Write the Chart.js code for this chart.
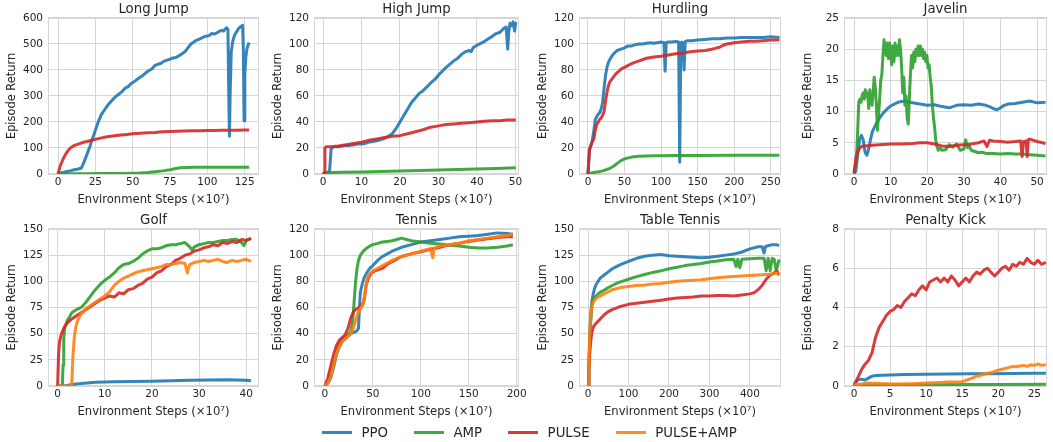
<!DOCTYPE html>
<html>
<head>
<meta charset="utf-8">
<script src="https://cdn.jsdelivr.net/npm/chart.js@4.4.1/dist/chart.umd.min.js"></script>
<style>
	body { margin: 0; background: #fff; width: 1053px; height: 442px; position: relative; overflow: hidden; font-family: "DejaVu Sans", sans-serif; }
	canvas.panel { position: absolute; }
	#legend { position: absolute; left: 322px; top: 424px; height: 16px; display: flex; align-items: center; font-size: 13.3px; color: #262626; white-space: nowrap; }
	#legend .item { display: flex; align-items: center; margin-right: 26px; }
	#legend .swatch { width: 30px; height: 3px; margin-right: 9.5px; }
</style>
</head>
<body>
<canvas id="c0" class="panel"></canvas>
<canvas id="c1" class="panel"></canvas>
<canvas id="c2" class="panel"></canvas>
<canvas id="c3" class="panel"></canvas>
<canvas id="c4" class="panel"></canvas>
<canvas id="c5" class="panel"></canvas>
<canvas id="c6" class="panel"></canvas>
<canvas id="c7" class="panel"></canvas>
<div id="legend"></div>
<script>
// series: PPO, AMP, PULSE, PULSE+AMP
const seriesNames = ['PPO', 'AMP', 'PULSE', 'PULSE+AMP'];
const seriesColors = ['rgba(31,119,180,0.9)', 'rgba(44,160,44,0.9)', 'rgba(214,39,40,0.9)', 'rgba(255,127,14,0.9)'];

// ---- Long Jump ----
const longJumpXTicks = [0, 25, 50, 75, 100, 125];
const longJumpYTicks = [0, 100, 200, 300, 400, 500, 600];
const longJumpPpoX = [0,2,4,6,8,10,12,14,15.5,17, 18.5,20,21.5,23,24.5,26,27.5,29,31,33, 35,37,39,41,43,45,47,49,51,53, 55,57,59,61,63,65,67,69,71,73, 75,77,79,81,83,85,87,89,91,93, 95,97,99,101,103,105,107,109,111,112, 113,113.8,114.3,114.8,115.3,116,117,118,119,120, 121,122,123,123.6,124.1,124.6,125.1,125.8,126.5,127.2, 128];
const longJumpPpoY = [0,4,7,10,12,15,17,20,22,40, 62,85,108,135,160,185,208,228,245,262, 276,288,300,308,318,330,336,348,355,364, 372,380,390,398,405,418,422,426,434,438, 442,446,448,455,462,470,485,500,508,515, 520,525,530,532,540,538,545,552,550,558, 562,556,330,145,310,470,510,530,542,550, 560,565,570,572,480,205,380,450,480,495, 505];
const longJumpPulseX = [0,1,2,3,4,5,6,7,8,9, 10,12,14,16,18,20,22,24,27,30, 34,38,42,46,50,55,60,65,70,75, 80,85,90,95,100,105,110,115,120,125, 128];
const longJumpPulseY = [0,22,38,52,64,75,84,92,98,103, 107,112,116,120,123,126,129,132,136,140, 144,147,150,152,155,157,159,160,162,163, 164,165,166,166,167,167,168,168,168,169, 169];
const longJumpAmpX = [0,10,20,30,40,50,55,60,65,70, 74,78,82,86,90,95,100,110,120,128];
const longJumpAmpY = [0,0.5,1,1.5,2,3,4,6,9,12, 15,20,24,25,25.5,26,26,26,26,26];

// ---- High Jump ----
const highJumpXTicks = [0, 10, 20, 30, 40, 50];
const highJumpYTicks = [0, 20, 40, 60, 80, 100, 120];
const highJumpPpoX = [0,1,1.7,2.1,2.5,3,4,5,6,7, 8,9,10,11,12,13,14,15,16,17, 18,19,20,21,22,23,24,25,26,27, 28,29,30,31,32,33,34,35,36,37, 38,38.5,39,40,41,42,43,44,45,46, 47,47.6,48,48.3,48.6,49,49.4,49.8,50.1];
const highJumpPpoY = [0,1,2,19,20.5,21,21,21.5,22,22, 22.5,23,23,23.5,24.5,25,25.5,26.5,27.5,29, 31,35,40,45,50,55,58.5,62,64,67, 70,72.5,76,79,82,84.5,87,89,92,94, 95,94,97,99,100.5,102,104,106,108,109, 112,113,96,110,116,114,117,110,117];
const highJumpPulseX = [0,0.3,0.5,0.8,2,4,6,8,10,12, 14,16,18,20,22,24,26,28,30,32, 34,36,38,40,42,44,46,48,50.1];
const highJumpPulseY = [0,1,20,21,21,21.5,22.5,23.5,24.5,26, 27,28,29,29.5,31,32.5,34,36,37,38, 38.5,39,39.5,40,40.5,41,41,41.5,41.5];
const highJumpAmpX = [0,5,10,15,20,25,30,35,40,45,50.1];
const highJumpAmpY = [1,1.3,1.6,2,2.3,2.7,3,3.4,3.8,4.3,4.9];

// ---- Hurdling ----
const hurdlingXTicks = [0, 50, 100, 150, 200, 250];
const hurdlingYTicks = [0, 20, 40, 60, 80, 100, 120];
const hurdlingPpoX = [0,2,4,6,8,10,12,14,16,18, 20,22,24,26,28,30,33,36,40,45, 50,55,60,65,70,75,80,85,90,95, 100,104,105.5,107,110,115,120,124,125.5,127, 128.5,130,131.5,133,137,142,150,160,170,180, 190,200,210,220,230,240,250,262];
const hurdlingPpoY = [0,18,22,26,33,42,44,46,47,50, 55,66,76,82,86,88,91,93,95,96, 97,98.5,98.5,99.5,100,100,100.5,101,100.5,101, 101.5,101,79,101,101.5,101.5,102,101.5,9,101, 101.5,100,80,102,102.5,102.5,103,103.5,104,104, 104.5,104.5,105,105,105,105,105.5,105];
const hurdlingPulseX = [0,1,2,4,6,8,10,12,14,16, 18,20,22,24,26,28,30,34,38,42, 46,50,55,60,65,70,80,90,100,110, 120,130,140,150,160,170,180,185,190,200, 210,220,230,240,250,262];
const hurdlingPulseY = [0,10,19,22,25,27,34,38,40,42, 43,45,48,56,63,68,71,74,77,79, 81,82,83.5,85,86,87,89,90,90.5,91.5, 92.5,93,94,94.5,95,96,97.5,99,100,101, 101.5,102,102,102.5,103,103];
const hurdlingAmpX = [0,5,10,15,20,25,30,35,40,45, 50,55,60,70,80,90,100,120,150,200, 262];
const hurdlingAmpY = [0,0.8,1.4,1.8,2.4,3.3,4.4,6,8.2,10.3, 11.6,12.4,13,13.6,13.9,14,14.1,14.2,14.3,14.4, 14.5];

// ---- Javelin ----
const javelinXTicks = [0, 10, 20, 30, 40, 50];
const javelinYTicks = [0, 5, 10, 15, 20, 25];
const javelinAmpX = [0,0.4,0.7,1.0,1.3,1.6,1.9,2.2,2.5,2.8, 3.1,3.4,3.7,4.0,4.3,4.6,4.9,5.2,5.5,5.8, 6.1,6.4,6.7,7.0,7.3,7.6,7.9,8.2,8.5,8.8, 9.1,9.4,9.7,10.0,10.3,10.6,10.9,11.2,11.5,11.8, 12.1,12.4,12.7,13.0,13.3,13.6,13.9,14.2,14.5,14.8, 15.1,15.4,15.7,16.0,16.3,16.6,16.9,17.2,17.5,17.8, 18.1,18.4,18.7,19.0,19.3,19.6,19.9,20.2,20.5,20.8, 21.1,21.4,21.7,22.0,22.3,22.6,23.0,23.5,24,25, 26,27,28,29,30,30.5,31,31.5,32,33, 34,35,36,38,40,42,44,46,48,50, 52.3];
const javelinAmpY = [0.2,1.5,3,7,11.5,12,11.5,12.5,13,12, 13.5,12.5,13,10.5,13.5,12,11,13,15.5,14, 11,7,9.5,12,15,16,19,21.5,20,19, 21,18.5,21,20,17.5,20.5,18,21,19,20.5, 19,21.5,20,17,13,15.5,11,12.5,9,8, 12,16,19,17,19.5,18,20,19,20.5,19, 20.5,19,20,18.5,19.5,18,19,17,17.5,15.5, 14,11,9,7.5,5.5,4.5,3.8,4.2,3.8,3.9, 4.7,4.3,4.8,3.8,4,5.5,4.2,4.5,3.8,3.6, 3.4,3.5,3.3,3.3,3.2,3.3,3.2,3.2,3.1,3.0, 2.9];
const javelinPpoX = [0,0.5,1,1.5,2,2.5,3,3.5,4,4.5, 5,6,7,8,9,10,11,12,13,14, 15,16,18,20,22,24,26,28,30,32, 34,36,37,38,39,40,41,42,44,46, 48,50,52.3];
const javelinPpoY = [0,0.5,3,5.5,6.2,5.5,3.5,3,4,5.5, 6.8,8,9,9.8,10.4,10.9,11.2,11.5,11.6,11.7, 11.5,11.4,11.2,11,11.1,10.8,10.6,11,11.1,11, 11.2,11,10.8,10.5,10.3,10.6,11,11.2,11.3,11.5, 11.7,11.4,11.5];
const javelinPulseX = [0,0.3,0.6,1,1.5,2,3,5,7,10, 13,16,18,20,22,24,26,28,30,32, 34,35.5,36.3,37,38,40,42,44,45.5,45.9, 46.3,47,47.3,47.6,48,49,50,52.3];
const javelinPulseY = [0.2,1.5,2.8,3.6,4.1,4.4,4.5,4.6,4.7,4.8, 4.8,4.9,5.0,5.0,4.8,4.5,4.4,4.6,4.7,4.8, 5.0,5.3,4.4,5.4,5.3,5.2,5.1,5.2,5.3,2.8, 5.2,5.3,2.8,5.5,5.6,5.4,5.2,4.9];

// ---- Golf ----
const golfXTicks = [0, 10, 20, 30, 40];
const golfYTicks = [0, 25, 50, 75, 100, 125, 150];
const golfPulseX = [0,0.2,0.4,0.7,1,1.5,2,3,4,5, 6,7,8,9,10,11,12,13,14,15, 16,17,18,19,20,21,22,23,24,25, 26,27,28,29,30,31,32,33,34,35, 36,37,38,39,40,41];
const golfPulseY = [0,30,42,48,52,57,60,64,67,70, 73,76,79,82,84,86,85,89,88,92, 93,96,98,102,104,108,110,114,116,120, 122,125,126,129,130,132,133,135,134,137, 136,138,137,140,139,141];
const golfAmpX = [0,1,1.15,1.3,1.5,2,2.5,3,4,5, 6,7,8,9,10,11,12,13,14,15, 16,17,18,19,20,21,22,23,24,25, 26,27,28,28.5,29,30,31,32,33,34, 35,36,37,38,39,39.5,40,41];
const golfAmpY = [0,0,20,45,55,62,66,70,73,75, 80,86,92,97,101,104,108,113,116,117, 119,122,126,129,131,131,132,134,135,135, 136,137,133,130,133,135,136,137,137,138, 139,139,140,140,137,134,139,141];
const golfPulseAmpX = [0,3,3.2,3.5,3.8,4.2,4.6,5,5.5,6, 7,8,9,10,11,12,13,14,15,16, 17,18,19,20,21,22,23,24,25,26, 27,27.5,28,29,30,31,32,33,34,35, 36,37,38,39,40,41];
const golfPulseAmpY = [0,0,25,45,55,62,66,69,71,74, 77,80,83,86,90,96,100,103,105,107, 109,110,111,112,113,114,116,116,117,118, 117,108,116,118,119,120,119,120,121,119, 118,120,119,120,121,119];
const golfPpoX = [0,2,3,5,8,12,16,20,24,28,32,36,40,41];
const golfPpoY = [0,0.5,1.5,2.5,3.5,4,4.2,4.5,5,5.5,5.8,6,5.5,5];

// ---- Tennis ----
const tennisXTicks = [0, 50, 100, 150, 200];
const tennisYTicks = [0, 20, 40, 60, 80, 100, 120];
const tennisPulseX = [0,3,6,9,12,15,18,21,24,27, 30,33,36,39,41,43,45,48,52,56, 60,65,70,75,80,90,100,110,120,130, 140,150,160,170,180,190,196];
const tennisPulseY = [0,6,15,24,31,35,37,39,44,52, 57,59,60,62,66,77,82,86,88,89, 90,93,95,97,99,101,102.5,104.5,106,108, 109,110.5,111.5,112.5,113.5,114,114];
const tennisPpoX = [0,3,6,9,12,15,18,21,24,27, 30,33,35,36,37,39,41,44,47,50, 55,60,65,70,80,90,100,110,120,130, 140,150,160,170,180,190,196];
const tennisPpoY = [0,2,6,14,24,30,34,36,38,40, 41,42,44,60,72,78,83,87,90,92, 96,99,101,103,106,108,110,111,112,113, 114,114.5,115,116,117,116.5,116];
const tennisAmpX = [0,3,6,9,12,15,18,21,24,27, 29,30.5,32,33.5,35,37,40,43,47,50, 55,60,65,70,75,80,85,90,100,110, 120,130,140,150,160,170,180,190,196];
const tennisAmpY = [0,3,10,18,27,32,36,38,39,42, 50,65,80,90,96,100,103,105,107,108, 109,110,110.5,111,112,113,112,111,110,109, 108.5,107.5,107,106,105.5,105.5,106,107,108];
const tennisPulseAmpX = [0,3,6,9,12,15,18,21,24,27, 30,32,34,36,38,40,42,44,46,50, 55,60,65,70,80,90,100,110,112.5,114, 116,120,130,140,150,160,170,180,190,196];
const tennisPulseAmpY = [0,2,7,16,25,30,34,36,38,40, 45,50,55,58,60,63,72,82,85,88, 90,92,94,96,99,101,103,105,98,105, 106,107,108,109,111,112,113,114,115,116];

// ---- Table Tennis ----
const tableTennisXTicks = [0, 100, 200, 300, 400];
const tableTennisYTicks = [0, 25, 50, 75, 100, 125, 150];
const tableTennisPpoX = [0,2,4,6,8,10,13,16,20,25, 30,40,50,60,70,80,100,120,140,160, 180,200,220,240,260,280,300,320,340,360, 380,400,420,430,435,438,445,455,465,472];
const tableTennisPpoY = [0,20,45,62,75,82,88,93,97,100, 103,106,109,112,114,116,119,122,124,125, 125.5,124.5,124,123.5,123,122.5,123,124,125,126, 128,131,133,133,127,133,134,135,135,134];
const tableTennisAmpX = [0,2,4,6,8,10,13,16,20,25, 30,40,50,60,70,80,100,120,140,160, 180,200,220,240,260,280,300,320,340,360, 366,370,375,380,400,420,435,440,445,450, 455,460,465,472];
const tableTennisAmpY = [0,15,35,55,70,78,82,84,86,88, 89.5,91.5,94,96,98,99.5,102,104.5,106.5,108.5, 110,112,113.5,115,116,117,118.5,119.5,120.5,121, 114,121,113,121,121.5,122,122,110,122,110, 122,121,110,121];
const tableTennisPulseAmpX = [0,2,4,6,8,10,13,16,20,25, 30,40,50,60,80,100,120,140,160,180, 200,220,240,260,280,300,320,340,360,380, 400,420,440,455,465,472];
const tableTennisPulseAmpY = [0,20,45,62,72,77,80,82,83.5,85, 86,88,90,92,94,95,96,96.5,97.5,98, 99,100,100.5,101,101.5,102.5,103.5,104,104.5,105, 105.5,106,106.5,107,108,106];
const tableTennisPulseX = [0,2,4,6,8,10,13,16,20,25, 30,40,50,60,80,100,120,140,160,180, 200,220,240,260,280,300,320,340,360,380, 400,410,420,430,440,450,460,466,472];
const tableTennisPulseY = [0,15,30,40,47,52,56,58,60,62, 64,68,71,73,76,78,79,80,81,82, 83,84,84.5,85,86,86,86.5,86.5,86,87, 88,89,92,96,102,106,108,110,106];

// ---- Penalty Kick ----
const penaltyXTicks = [0, 5, 10, 15, 20, 25];
const penaltyYTicks = [0, 2, 4, 6, 8];
const penaltyPulseX = [0,0.5,1,1.5,2,2.5,3,3.5,4,4.5, 5,5.5,6,6.5,7,7.5,8,8.5,9,9.5, 10,10.5,11,11.5,12,12.5,13,13.5,14,14.5, 15,15.5,16,16.5,17,17.5,18,18.5,19,19.5, 20,20.5,21,21.5,22,22.5,23,23.5,24,24.5, 25,25.5,26,26.6];
const penaltyPulseY = [0,0.4,0.8,1.1,1.3,1.7,2.5,3.0,3.3,3.6, 3.8,3.9,4.1,4.0,4.3,4.5,4.7,4.6,4.9,5.1, 4.9,5.3,5.4,5.5,5.3,5.5,5.3,5.6,5.4,5.1, 5.3,5.5,5.3,5.6,5.8,5.7,5.9,6.0,5.8,5.6, 5.8,6.0,6.1,5.9,6.2,6.1,6.3,6.2,6.5,6.3, 6.2,6.4,6.2,6.3];
const penaltyPpoX = [0,0.5,1,1.5,2,2.5,3,4,5,7,10,13,16,19,22,25,26.6];
const penaltyPpoY = [0.1,0.3,0.35,0.3,0.4,0.5,0.53,0.55,0.56,0.58,0.6,0.61,0.62,0.63,0.64,0.65,0.65];
const penaltyAmpX = [0,5,10,15,20,26.6];
const penaltyAmpY = [0.05,0.06,0.07,0.08,0.08,0.09];
const penaltyPulseAmpX = [0,1,2,4,6,8,10,12,13,14, 15,15.5,16,16.5,17,17.5,18,18.5,19,19.5, 20,20.5,21,21.5,22,22.5,23,23.5,24,24.5, 25,25.5,26,26.6];
const penaltyPulseAmpY = [0.05,0.1,0.15,0.12,0.1,0.12,0.15,0.18,0.2,0.2, 0.22,0.28,0.35,0.42,0.5,0.55,0.6,0.65,0.68,0.75, 0.8,0.85,0.9,0.95,1.0,0.98,1.02,1.05,1.0,1.08, 1.05,1.12,1.05,1.08];

// panel layout (pixel boxes of the plot areas)
const plotLeft = [48, 314, 579, 844];
const plotRight = [259, 519, 781, 1047];
const canvasTop = [0, 211];
const plotBottom = [174, 386];
const yAxisWidth = 48, xAxisHeight = 34, padRight = 12;

const gridColor = '#d6d6d6';
const textColor = '#262626';
Chart.defaults.font.family = "'DejaVu Sans', sans-serif";
Chart.defaults.color = textColor;

const panels = [
	{ title: 'Long Jump', row: 0, col: 0, xMin: -6.7, xMax: 134.6, xTicks: longJumpXTicks, yTicks: longJumpYTicks,
		series: [[longJumpPpoX, longJumpPpoY], [longJumpAmpX, longJumpAmpY], [longJumpPulseX, longJumpPulseY], null] },
	{ title: 'High Jump', row: 0, col: 1, xMin: -2.34, xMax: 50.94, xTicks: highJumpXTicks, yTicks: highJumpYTicks,
		series: [[highJumpPpoX, highJumpPpoY], [highJumpAmpX, highJumpAmpY], [highJumpPulseX, highJumpPulseY], null] },
	{ title: 'Hurdling', row: 0, col: 2, xMin: -12.3, xMax: 264.1, xTicks: hurdlingXTicks, yTicks: hurdlingYTicks,
		series: [[hurdlingPpoX, hurdlingPpoY], [hurdlingAmpX, hurdlingAmpY], [hurdlingPulseX, hurdlingPulseY], null] },
	{ title: 'Javelin', row: 0, col: 3, xMin: -2.74, xMax: 52.7, xTicks: javelinXTicks, yTicks: javelinYTicks,
		series: [[javelinPpoX, javelinPpoY], [javelinAmpX, javelinAmpY], [javelinPulseX, javelinPulseY], null] },
	{ title: 'Golf', row: 1, col: 0, xMin: -2.04, xMax: 42.7, xTicks: golfXTicks, yTicks: golfYTicks,
		series: [[golfPpoX, golfPpoY], [golfAmpX, golfAmpY], [golfPulseX, golfPulseY], [golfPulseAmpX, golfPulseAmpY]] },
	{ title: 'Tennis', row: 1, col: 1, xMin: -11.4, xMax: 202.4, xTicks: tennisXTicks, yTicks: tennisYTicks,
		series: [[tennisPpoX, tennisPpoY], [tennisAmpX, tennisAmpY], [tennisPulseX, tennisPulseY], [tennisPulseAmpX, tennisPulseAmpY]] },
	{ title: 'Table Tennis', row: 1, col: 2, xMin: -22.3, xMax: 476.7, xTicks: tableTennisXTicks, yTicks: tableTennisYTicks,
		series: [[tableTennisPpoX, tableTennisPpoY], [tableTennisAmpX, tableTennisAmpY], [tableTennisPulseX, tableTennisPulseY], [tableTennisPulseAmpX, tableTennisPulseAmpY]] },
	{ title: 'Penalty Kick', row: 1, col: 3, xMin: -1.39, xMax: 26.76, xTicks: penaltyXTicks, yTicks: penaltyYTicks,
		series: [[penaltyPpoX, penaltyPpoY], [penaltyAmpX, penaltyAmpY], [penaltyPulseX, penaltyPulseY], [penaltyPulseAmpX, penaltyPulseAmpY]] }
];

// draws the full box round the plot area, like matplotlib spines
const framePlugin = {
	id: 'frame',
	beforeDatasetsDraw(chart) {
		const { ctx, chartArea: a } = chart;
		ctx.save();
		ctx.strokeStyle = gridColor;
		ctx.lineWidth = 1;
		ctx.strokeRect(Math.round(a.left) + 0.5, Math.round(a.top) + 0.5, Math.round(a.right - a.left) - 1, Math.round(a.bottom - a.top) - 1);
		ctx.restore();
	}
};

function toPoints(xs, ys) {
	return xs.map((x, i) => ({ x: x, y: ys[i] }));
}

panels.forEach((p, idx) => {
	const canvas = document.getElementById('c' + idx);
	const left = plotLeft[p.col] - yAxisWidth;
	const top = canvasTop[p.row];
	const w = plotRight[p.col] - plotLeft[p.col] + yAxisWidth + padRight;
	const h = plotBottom[p.row] - top + xAxisHeight;
	canvas.style.left = left + 'px';
	canvas.style.top = top + 'px';
	canvas.width = w; canvas.height = h;
	canvas.style.width = w + 'px'; canvas.style.height = h + 'px';

	const datasets = [];
	p.series.forEach((s, i) => {
		if (!s) return;
		datasets.push({
			label: seriesNames[i],
			data: toPoints(s[0], s[1]),
			borderColor: seriesColors[i],
			backgroundColor: seriesColors[i],
			borderWidth: 3,
			borderJoinStyle: 'round',
			pointRadius: 0,
			tension: 0,
			order: 4 - i // later series on top
		});
	});

	new Chart(canvas, {
		type: 'line',
		data: { datasets: datasets },
		plugins: [framePlugin],
		options: {
			responsive: false,
			animation: false,
			devicePixelRatio: 1,
			layout: { padding: { left: 0, top: 0, right: padRight, bottom: 0 } },
			plugins: {
				legend: { display: false },
				tooltip: { enabled: false },
				title: {
					display: true,
					fullSize: false, // centre over the plot area
					text: p.title,
					color: textColor,
					font: { size: 13.3, weight: 'normal' },
					padding: { top: 2, bottom: 0 }
				}
			},
			scales: {
				x: {
					type: 'linear',
					min: p.xMin,
					max: p.xMax,
					afterBuildTicks: s => { s.ticks = p.xTicks.map(v => ({ value: v })); },
					afterFit: s => { s.height = xAxisHeight; },
					grid: { color: gridColor, drawTicks: false },
					border: { display: false },
					ticks: { font: { size: 10.5 }, color: textColor, padding: 2.4, maxRotation: 0 },
					title: { display: true, text: 'Environment Steps (×10⁷)', font: { size: 11.6 }, color: textColor, padding: { top: 0, bottom: 0.9 } }
				},
				y: {
					min: 0,
					max: p.yTicks[p.yTicks.length - 1],
					afterBuildTicks: s => { s.ticks = p.yTicks.map(v => ({ value: v })); },
					afterFit: s => { s.width = yAxisWidth; },
					grid: { color: gridColor, drawTicks: false },
					border: { display: false },
					ticks: { font: { size: 10.5 }, color: textColor, padding: 5 },
					title: { display: true, text: 'Episode Return', font: { size: 11.4 }, color: textColor, padding: { top: 5.7, bottom: 0 } }
				}
			}
		}
	});
});

// shared legend under the panels
const legend = document.getElementById('legend');
seriesNames.forEach((name, i) => {
	const item = document.createElement('div');
	item.className = 'item';
	item.innerHTML = '<span class="swatch" style="background:' + seriesColors[i] + '"></span><span>' + name + '</span>';
	legend.appendChild(item);
});
</script>
</body>
</html>
